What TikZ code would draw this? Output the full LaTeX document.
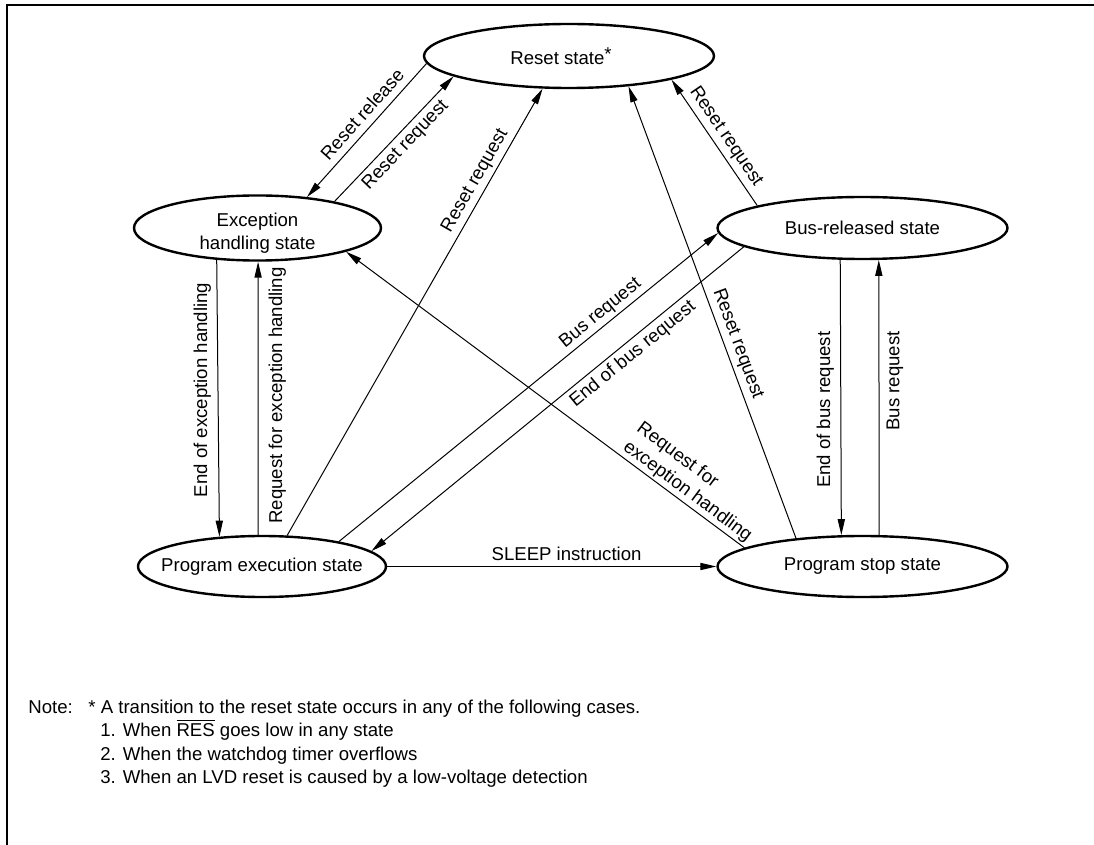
\documentclass[tikz,border=0pt]{standalone}
\usepackage{fontspec}
\setmainfont{Liberation Sans}
\usetikzlibrary{arrows.meta,shapes.geometric}

\tikzstyle{state}=[ellipse, draw=black, line width=1.2pt, inner sep=0pt]
\tikzstyle{trans}=[line width=0.5pt, -{Triangle[length=8pt,width=3.6pt]}]
\tikzstyle{lbl}=[sloped, inner sep=2pt]
\tikzstyle{vlbl}=[rotate=90, inner sep=3.2pt]
\tikzstyle{notetext}=[anchor=base west, inner sep=0pt]
\tikzstyle{frame}=[line width=1.4pt]

\newcommand{\zbox}[1]{\makebox[0pt]{#1}}

\begin{document}
\begin{tikzpicture}[x=0.5pt, y=-0.5pt, font=\fontsize{9.3}{11.5}\selectfont]
	\useasboundingbox (0,0) rectangle (1094,845);
	% Frame
	\draw[frame] (7,845) -- (7,5) -- (1094,5);

	% States
	\node[state, minimum width=145pt, minimum height=32pt] (reset) at (569,56) {\zbox{Reset state\raisebox{0.35ex}{*}\hspace{8pt}}};
	\node[state, minimum width=123.5pt, minimum height=31pt, text height=16.5pt, text depth=6.5pt] (exc) at (257.5,228) {\zbox{\begin{tabular}{@{}c@{}}Exception\\handling state\end{tabular}}};
	\node[state, minimum width=145pt, minimum height=31pt] (bus) at (862.5,228) {\zbox{Bus-released state}};
	\node[state, minimum width=124pt, minimum height=30.5pt] (prog) at (262,566.5) {\zbox{Program execution state}};
	\node[state, minimum width=145pt, minimum height=30.5pt] (stop) at (862.5,566.5) {\zbox{Program stop state}};

	% Reset transitions
	\draw[trans] (reset.183.5) -- node[lbl, above, pos=.45, inner sep=3.5pt] {Reset release} (exc.32);
	\draw[trans] (exc.19) -- node[lbl, below, pos=.52] {Reset request} (reset.190.3);
	\draw[trans] (prog.51) -- node[lbl, above, pos=.78] {Reset request} (reset.231.3);
	\draw[trans] (stop.157.6) -- node[lbl, above, pos=.42] {Reset request} (reset.333.8);
	\draw[trans] (bus.168.8) -- node[lbl, above, pos=.49] {Reset request} (reset.347);

	% Bus transitions
	\draw[trans] (prog.18.6) -- node[lbl, above, pos=.71, inner sep=1.5pt] {Bus request} (bus.182.35);
	\draw[trans] (bus.189.6) -- node[lbl, below, pos=.32] {End of bus request} (prog.8.4);
	\draw[trans] (bus.235.8) -- node[vlbl, above, pos=.545] {End of bus request} (stop.124.6);
	\draw[trans] (stop.62.2) -- node[vlbl, below, pos=.56, inner sep=3.5pt] {Bus request} (bus.297.4);

	% Exception handling transitions
	\draw[trans] (exc.218.3) -- node[vlbl, above, pos=.47] {End of exception handling} (prog.145.45);
	\draw[trans] (prog.97.2) -- node[vlbl, below, pos=.51, inner sep=5pt] {Request for exception handling} (exc.271);
	\draw[trans] (stop.171) -- node[lbl, above, pos=.16, align=left, inner sep=1pt] {Request for\\exception handling} (exc.-15);

	\draw[trans] (prog.east) -- node[above, pos=.545, inner sep=2.5pt] {SLEEP instruction} (stop.west);

	% Note
	\node[notetext] (note) at (28,713) {Note:};
	\node[notetext] (cases) at (88,713) {* A transition to the reset state occurs in any of the following cases.};
	\node[notetext] (case1) at (100,736) {1. When $\overline{\mbox{RES}}$ goes low in any state};
	\node[notetext] (case2) at (100,760) {2. When the watchdog timer overflows};
	\node[notetext] (case3) at (100,783) {3. When an LVD reset is caused by a low-voltage detection};
\end{tikzpicture}
\end{document}
